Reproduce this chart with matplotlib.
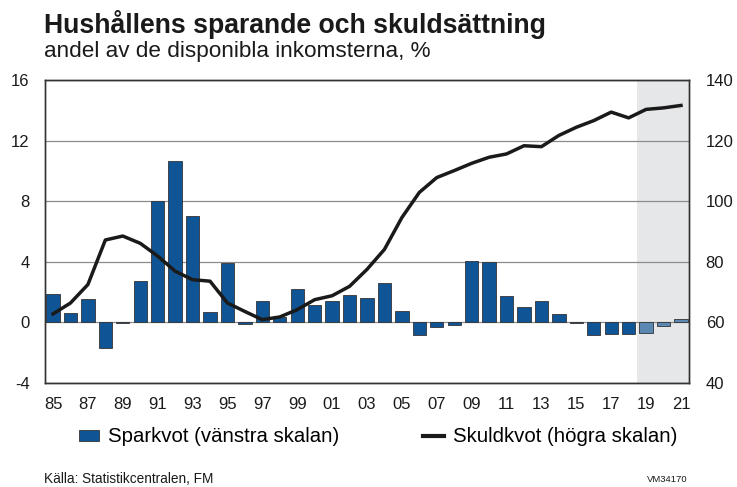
import matplotlib
matplotlib.use("Agg")
import matplotlib.pyplot as plt
from matplotlib.patches import Patch
from matplotlib.lines import Line2D

plt.rcParams['font.family'] = ['Liberation Sans', 'DejaVu Sans']

years = list(range(1985, 2022))
sparkvot = [1.9, 0.64, 1.55, -1.66, -0.05, 2.72, 8.0, 10.65, 7.0, 0.69, 3.93, -0.08,
            1.41, 0.35, 2.19, 1.17, 1.41, 1.83, 1.64, 2.63, 0.75, -0.86, -0.33, -0.15,
            4.04, 3.98, 1.77, 0.99, 1.44, 0.53, -0.03, -0.8, -0.77, -0.77, -0.73, -0.24, 0.22]
skuldkvot = [62.8, 66.4, 72.5, 87.2, 88.5, 86.1, 81.9, 76.9, 74.1, 73.6, 66.4, 63.6,
             60.9, 61.8, 64.2, 67.5, 68.8, 71.9, 77.5, 84.1, 94.6, 102.9, 107.8, 110.1,
             112.5, 114.5, 115.6, 118.3, 118.0, 121.7, 124.4, 126.6, 129.4, 127.5, 130.3, 130.8, 131.6]
forecast_start = 2019
xtick_labels = [f"{y % 100:02d}" for y in years[::2]]

title = "Hushållens sparande och skuldsättning"
subtitle = "andel av de disponibla inkomsterna, %"
source = "Källa: Statistikcentralen, FM"
code = "VM34170"

dark = "#0F5494"
light = "#5A88B2"

fig = plt.figure(figsize=(7.37, 4.87), dpi=100)
ax = fig.add_axes([45/737, 1-383/487, (689-45)/737, (383-80)/487])
ax2 = ax.twinx()

idx = list(range(len(years)))
fi = years.index(forecast_start)
colors = [dark if y < forecast_start else light for y in years]
ax.axvspan(fi - 0.5, len(years) - 0.5, color="#E6E7E9", zorder=0, lw=0)
for v in range(-4, 17, 4):
    ax.axhline(v, color="#8C8C8C", lw=0.9, zorder=1)
ax.bar(idx, sparkvot, width=0.76, color=colors, edgecolor="#333333", linewidth=0.6, zorder=2)

ax.set_xlim(-0.46, len(years) - 0.54)
ax.set_ylim(-4, 16)
ax.set_yticks(range(-4, 17, 4))
ax.set_yticklabels([str(v) for v in range(-4, 17, 4)])
ax.set_xticks(idx[::2])
ax.set_xticklabels(xtick_labels)

ax2.set_ylim(40, 140)
ax2.set_yticks(range(40, 141, 20))
ax2.plot(idx, skuldkvot, color="#1A1A1A", lw=2.5, zorder=5, solid_joinstyle="round")
ax.set_zorder(1); ax.patch.set_visible(False)
ax2.set_zorder(2)

for a in (ax, ax2):
    a.tick_params(length=0, labelsize=12, colors="#1A1A1A")
    for s in a.spines.values():
        s.set_color("#333333"); s.set_linewidth(1.0)
ax.tick_params(axis='y', pad=11)
ax.tick_params(axis='x', pad=10)
ax2.tick_params(axis='y', pad=12)

fig.text(44/737, 1-33/487, title, fontsize=19.2, fontweight='bold', va='baseline', color="#1A1A1A")
fig.text(44/737, 1-57/487, subtitle, fontsize=16.2, va='baseline', color="#1A1A1A")

handles = [Patch(facecolor=dark, edgecolor="#333333", linewidth=0.6),
           Line2D([0], [0], color="#1A1A1A", lw=3)]
fig.legend(handles, ["Sparkvot (vänstra skalan)", "Skuldkvot (högra skalan)"],
           loc='center left', bbox_to_anchor=(79/737, 1-437/487), ncol=2, frameon=False,
           fontsize=14.7, columnspacing=4.1, handlelength=1.0, handleheight=0.45,
           handletextpad=0.44, borderpad=0, borderaxespad=0)

fig.text(44/737, 1-483/487, source, fontsize=9.8, va='baseline', color="#1A1A1A")
fig.text(688/737, 1-482/487, code, fontsize=6.8, va='baseline', ha='right', color="#1A1A1A")

fig.savefig("out.png", dpi=100)
